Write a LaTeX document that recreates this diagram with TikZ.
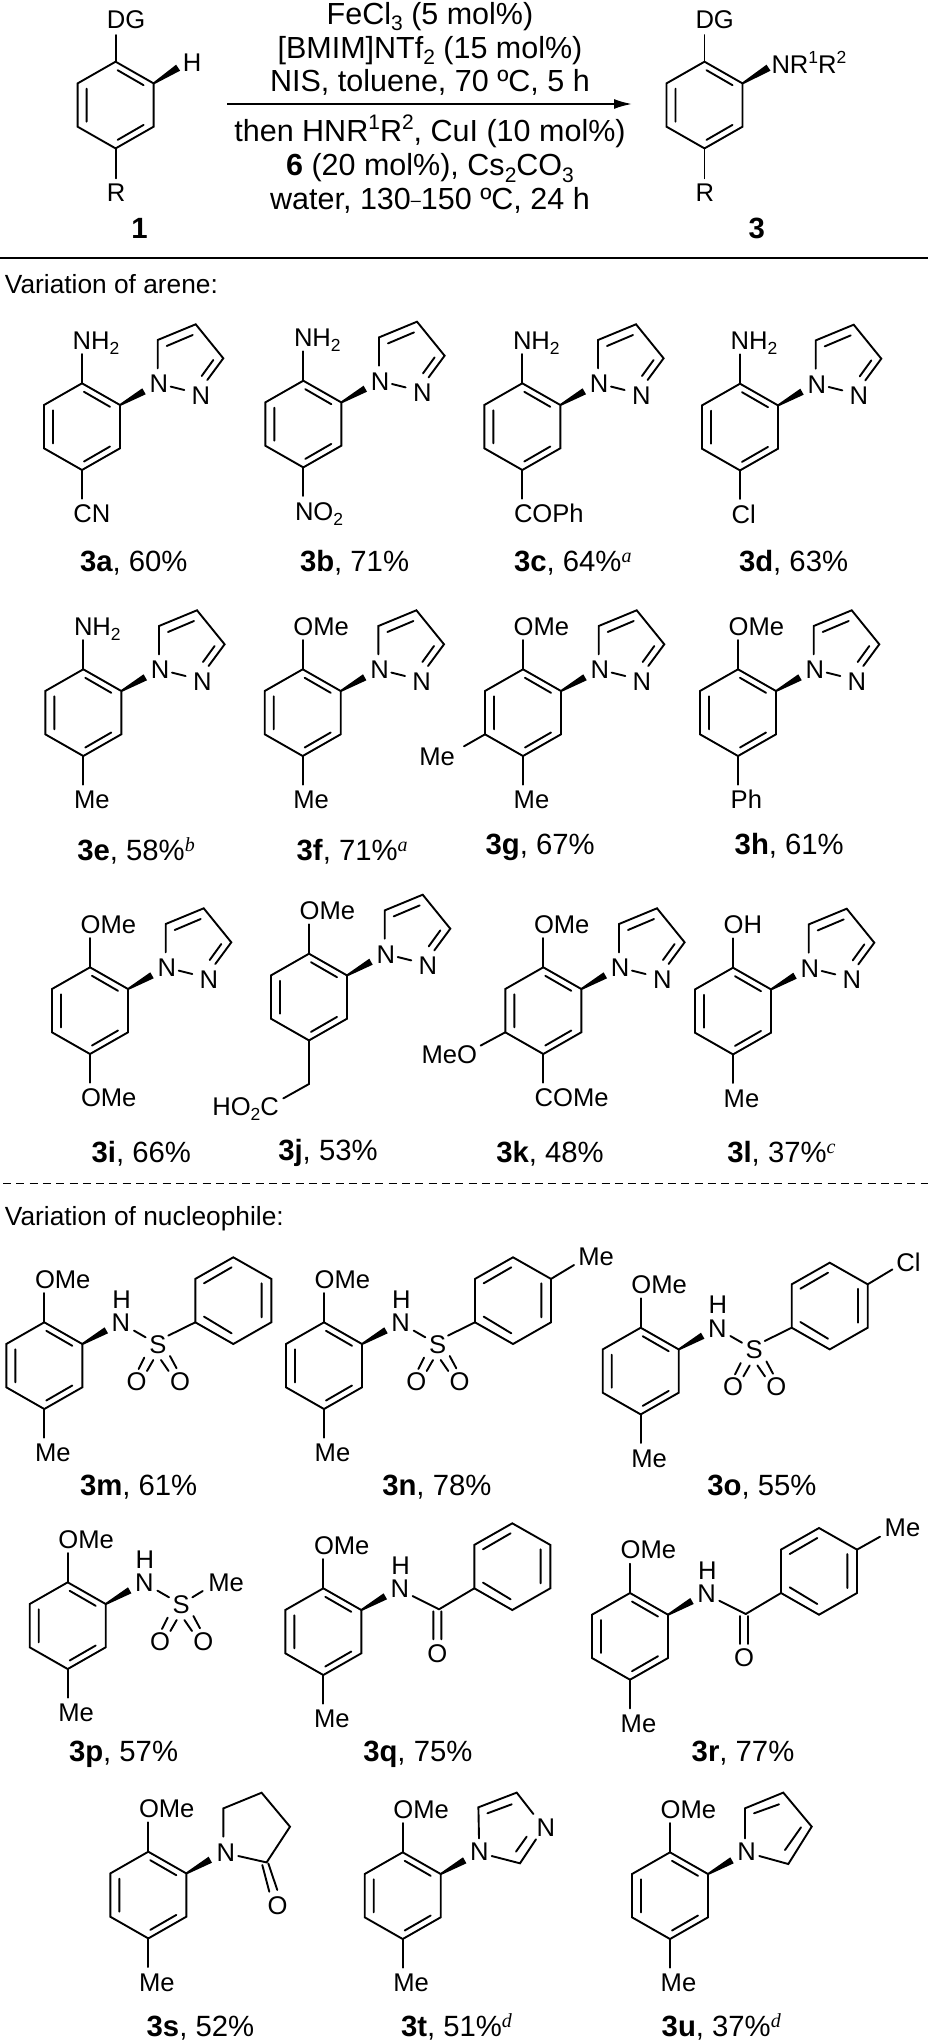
\documentclass[tikz,border=0pt]{standalone}
\usepackage{fontspec}
\setmainfont{Liberation Sans}
\newfontfamily\serifsup{Liberation Serif}
\usetikzlibrary{arrows.meta,calc}
\tikzset{
  bond/.style={line width=1.9pt,line cap=round,line join=miter,black},
  wdgfill/.style={fill=black,draw=none},
  atomlbl/.style={anchor=base west,inner sep=0pt,outer sep=0pt,font=\fontsize{25.6}{30}\selectfont},
  yieldlbl/.style={anchor=base west,inner sep=0pt,outer sep=0pt,font=\fontsize{29.3}{34}\selectfont},
  condlbl/.style={anchor=base,inner sep=0pt,outer sep=0pt,font=\fontsize{30.5}{35}\selectfont},
  numlbl/.style={anchor=base,inner sep=0pt,outer sep=0pt,font=\fontsize{29.3}{34}\selectfont},
  headlbl/.style={anchor=base west,inner sep=0pt,outer sep=0pt,font=\fontsize{26.3}{30}\selectfont},
}
\newcommand\sbs[1]{\raisebox{-5.5pt}{\fontsize{17.5}{20}\selectfont #1}}
\newcommand\sps[1]{\raisebox{10.5pt}{\fontsize{17.5}{20}\selectfont #1}}
\newcommand\csbs[1]{\raisebox{-6.5pt}{\fontsize{21}{23}\selectfont #1}}
\newcommand\csps[1]{\raisebox{12pt}{\fontsize{21}{23}\selectfont #1}}
\newcommand\supit[1]{\raisebox{9pt}{\fontsize{20}{22}\selectfont\serifsup\itshape #1}}
\newcommand\mol[4]{\begin{scope}[shift={(#2,#3)},name prefix=#1-]#4\end{scope}}
\newcommand\atm[4]{\node[atomlbl] (#1) at (#2,#3) {#4};}
\newcommand\yld[4]{\node[yieldlbl] (y#1) at (#2,#3) {\textbf{#1}#4};}
\newcommand\arenering{%
  \coordinate (t) at (0,0); \coordinate (ur) at (38,21.7); \coordinate (lr) at (38,65);
  \coordinate (b) at (0,86.7); \coordinate (ll) at (-38,65); \coordinate (ul) at (-38,21.7);
  \coordinate (i1) at (2,8.5); \coordinate (i2) at (28,23.5);
  \coordinate (i3) at (2,78.2); \coordinate (i4) at (28,63.2);
  \coordinate (i5) at (-29,27); \coordinate (i6) at (-29,60);
  \draw[bond] (t)--(ur)--(lr)--(b)--(ll)--(ul)--cycle;
  \draw[bond] (i1)--(i2) (i3)--(i4) (i5)--(i6);}
\newcommand\wdg{\coordinate (wa) at (63.7,11); \coordinate (wb) at (60.3,5);
  \fill[wdgfill] ($(ur)+(0.3,1)$) -- (wa) -- (wb) -- ($(ur)+(-0.5,-0.8)$) -- cycle;}
\newcommand\topsub[2]{\coordinate (te) at (0,-29.3); \draw[bond] (t)--(te); \atm{top}{-9.3}{-34.3}{#2}}
\newcommand\botsub[2]{\coordinate (be) at (0,115.3); \draw[bond] (b)--(be); \atm{bot}{#1}{139.5}{#2}}
\newcommand\pyrazole{%
  \wdg
  \atm{n1}{67.6}{9.3}{N} \atm{n2}{109.7}{21}{N}
  \coordinate (a1) at (75.7,-15); \coordinate (c5) at (75.7,-43.3); \coordinate (c4) at (113.7,-59);
  \coordinate (c3) at (141.3,-25); \coordinate (a2) at (125.3,-3.3);
  \coordinate (a3) at (84.7,-37.3); \coordinate (a4) at (110.7,-48.3);
  \coordinate (a5) at (131.3,-23.3); \coordinate (a6) at (119.7,-7.3);
  \coordinate (a7) at (88.7,3.3); \coordinate (a8) at (102.3,6.7);
  \draw[bond] (a1)--(c5)--(c4)--(c3)--(a2) (a3)--(a4) (a5)--(a6) (a7)--(a8);}
\newcommand\phring{%
  \coordinate (pt) at (189,-65); \coordinate (pur) at (227,-43.4); \coordinate (plr) at (227,0);
  \coordinate (pb) at (189,21.7); \coordinate (pll) at (151,0); \coordinate (pul) at (151,-43.4);
  \coordinate (p1) at (159.7,-39); \coordinate (p2) at (187.3,-55);
  \coordinate (p3) at (217.3,-39); \coordinate (p4) at (217.3,-5);
  \coordinate (p5) at (159.7,-5.7); \coordinate (p6) at (187.3,11);
  \draw[bond] (pt)--(pur)--(plr)--(pb)--(pll)--(pul)--cycle;
  \draw[bond] (p1)--(p2) (p3)--(p4) (p5)--(p6);}
\newcommand\nhlbl{\wdg \atm{n}{67.3}{9.3}{N} \atm{h}{68}{-14}{H}}
\newcommand\sulfonyl{%
  \atm{s}{105}{31}{S} \atm{oa}{82.3}{68}{O} \atm{ob}{125.7}{68}{O}
  \coordinate (s1) at (89.7,8.3); \coordinate (s2) at (101.3,15);
  \coordinate (s3) at (100,35.3); \coordinate (s4) at (94.3,46.7);
  \coordinate (s5) at (109,37.7); \coordinate (s6) at (102.7,48.7);
  \coordinate (s7) at (116.7,37.7); \coordinate (s8) at (124.3,48.7);
  \coordinate (s9) at (125.7,33.7); \coordinate (s0) at (132.3,46);
  \draw[bond] (s1)--(s2) (s3)--(s4) (s5)--(s6) (s7)--(s8) (s9)--(s0);}
\newcommand\amide{%
  \atm{oa}{104}{73.7}{O}
  \coordinate (m1) at (89.3,7.7); \coordinate (mc) at (115.7,21);
  \coordinate (m3) at (110,23); \coordinate (m4) at (110,51);
  \coordinate (m5) at (118,23); \coordinate (m6) at (118,51);
  \draw[bond] (m1)--(mc) (m3)--(m4) (m5)--(m6);}
\begin{document}
\begin{tikzpicture}[x=1pt,y=-1pt]
\useasboundingbox (0,0) rectangle (928,2044);
\fill[white] (0,0) rectangle (928,2044);
% --- scheme ---
\mol{sm}{115.6}{61.7}{\arenering
  \coordinate (te) at (0,-26.7); \draw[bond] (t)--(te);
  \coordinate (wa) at (64.5,9); \coordinate (wb) at (60.5,3);
  \fill[wdgfill] ($(ur)+(0.3,1)$) -- (wa) -- (wb) -- ($(ur)+(-0.5,-0.8)$) -- cycle;
  \coordinate (be) at (0,116.6); \draw[bond] (b)--(be);
  \atm{dg}{-8.8}{-33.4}{DG} \atm{h}{67.2}{10}{H} \atm{r}{-8.8}{140}{R}}
\mol{pd}{704.5}{61.7}{\arenering
  \coordinate (te) at (0,-26.7); \draw[bond] (t)--(te);
  \coordinate (wa) at (66,9); \coordinate (wb) at (62,3);
  \fill[wdgfill] ($(ur)+(0.3,1)$) -- (wa) -- (wb) -- ($(ur)+(-0.5,-0.8)$) -- cycle;
  \coordinate (be) at (0,116.6); \draw[bond] (b)--(be);
  \atm{dg}{-9}{-33.4}{DG} \atm{nr}{67}{12.3}{NR\sps{1}R\sps{2}} \atm{r}{-9}{140}{R}}
\node[numlbl] (lab1) at (139.5,238.3) {\textbf{1}};
\node[numlbl] (lab3) at (756.7,238.3) {\textbf{3}};
\coordinate (arrowA) at (227.3,104); \coordinate (arrowB) at (632,104);
\draw[line width=1.9pt,-{Latex[length=18pt,width=10pt]}] (arrowA)--(arrowB);
\node[condlbl] (c1) at (430,24.3) {FeCl\csbs{3} (5 mol\%)};
\node[condlbl] (c2) at (430,58.3) {[BMIM]NTf\csbs{2} (15 mol\%)};
\node[condlbl] (c3) at (430,91.7) {NIS, toluene, 70 ºC, 5 h};
\node[condlbl] (c4) at (430,141.7) {then HNR\csps{1}R\csps{2}, CuI (10 mol\%)};
\node[condlbl] (c5) at (430,175.7) {\textbf{6} (20 mol\%), Cs\csbs{2}CO\csbs{3}};
\node[condlbl] (c6) at (430,209.3) {water, 130\raisebox{3pt}{\fontsize{18}{20}\selectfont –}150 ºC, 24 h};
\coordinate (ruleA) at (0,258); \coordinate (ruleB) at (928,258);
\draw[line width=1.9pt] (ruleA)--(ruleB);
\node[headlbl] (h1) at (5,293.3) {Variation of arene:};
\coordinate (dashA) at (3,1183.3); \coordinate (dashB) at (928,1183.3);
\draw[line width=1.4pt,dash pattern=on 8pt off 5.3pt] (dashA)--(dashB);
\node[headlbl] (h2) at (5,1225) {Variation of nucleophile:};
% --- row 1 ---
\mol{a}{82}{383.3}{\arenering\pyrazole\topsub{NH}{NH\sbs{2}}\botsub{-8.7}{CN}}
\mol{b}{303.3}{380.7}{\arenering\pyrazole\topsub{NH}{NH\sbs{2}}\botsub{-8.3}{NO\sbs{2}}}
\mol{c}{522.3}{383.3}{\arenering\pyrazole\topsub{NH}{NH\sbs{2}}\botsub{-8.3}{COPh}}
\mol{d}{740}{383.7}{\arenering\pyrazole\topsub{NH}{NH\sbs{2}}\botsub{-8.3}{Cl}}
\yld{3a}{80}{571.7}{, 60\%}
\yld{3b}{300}{571.7}{, 71\%}
\yld{3c}{514}{571.7}{, 64\%\supit{a}}
\yld{3d}{739}{571.7}{, 63\%}
% --- row 2 ---
\mol{e}{83.3}{669.3}{\arenering\pyrazole\topsub{NH}{NH\sbs{2}}\botsub{-9.3}{Me}}
\mol{f}{302.7}{669.3}{\arenering\pyrazole\topsub{O}{OMe}\botsub{-9.3}{Me}}
\mol{g}{523}{669.3}{\arenering\pyrazole\topsub{O}{OMe}\botsub{-9.3}{Me}
  \coordinate (le) at (-59,77); \draw[bond] (ll)--(le); \atm{me}{-103.7}{95.7}{Me}}
\mol{h}{738}{669.3}{\arenering\pyrazole\topsub{O}{OMe}\botsub{-7.3}{Ph}}
\yld{3e}{77.3}{860}{, 58\%\supit{b}}
\yld{3f}{296.7}{860}{, 71\%\supit{a}}
\yld{3g}{485.7}{854.3}{, 67\%}
\yld{3h}{734.7}{854.3}{, 61\%}
% --- row 3 ---
\mol{i}{90}{967.3}{\arenering\pyrazole\topsub{O}{OMe}\botsub{-9}{OMe}}
\mol{j}{309}{953.7}{\arenering\pyrazole\topsub{O}{OMe}
  \coordinate (ch) at (0,130.3); \coordinate (co) at (-25.7,144.7); \draw[bond] (b)--(ch)--(co);
  \atm{acid}{-96.7}{161.3}{HO\sbs{2}C}}
\mol{k}{543.3}{967.3}{\arenering\pyrazole\topsub{O}{OMe}\botsub{-8.7}{COMe}
  \coordinate (le) at (-62.7,78.3); \draw[bond] (ll)--(le); \atm{meo}{-121.7}{96}{MeO}}
\mol{l}{733}{967.7}{\arenering\pyrazole\topsub{O}{OH}\botsub{-9.3}{Me}}
\yld{3i}{91.7}{1162.7}{, 66\%}
\yld{3j}{278.3}{1160}{, 53\%}
\yld{3k}{496.3}{1162.7}{, 48\%}
\yld{3l}{727.3}{1162.7}{, 37\%\supit{c}}
% --- nucleophiles 1 ---
\mol{m}{44.3}{1322.3}{\arenering\nhlbl\topsub{O}{OMe}\botsub{-9.3}{Me}\sulfonyl\phring
  \coordinate (sp) at (124,13.3); \draw[bond] (sp)--(pll);}
\mol{n}{324}{1322.3}{\arenering\nhlbl\topsub{O}{OMe}\botsub{-9.3}{Me}\sulfonyl\phring
  \coordinate (sp) at (124,13.3); \draw[bond] (sp)--(pll);
  \coordinate (mb) at (250,-57.3); \draw[bond] (pur)--(mb); \atm{me}{254.3}{-56.6}{Me}}
\mol{o}{640.7}{1327.7}{\arenering\nhlbl\topsub{O}{OMe}\botsub{-9.3}{Me}\sulfonyl\phring
  \coordinate (sp) at (124,13.3); \draw[bond] (sp)--(pll);
  \coordinate (mb) at (251.7,-58.3); \draw[bond] (pur)--(mb); \atm{cl}{255.7}{-56}{Cl}}
\yld{3m}{80}{1495}{, 61\%}
\yld{3n}{382.3}{1495}{, 78\%}
\yld{3o}{707.3}{1495}{, 55\%}
% --- nucleophiles 2 ---
\mol{p}{67.7}{1582.3}{\arenering\nhlbl\topsub{O}{OMe}\botsub{-9.3}{Me}\sulfonyl
  \coordinate (sm) at (124.7,15); \coordinate (se) at (135,8.7); \draw[bond] (sm)--(se);
  \atm{me}{140.7}{9.3}{Me}}
\mol{q}{323.3}{1588.3}{\arenering\nhlbl\topsub{O}{OMe}\botsub{-9.3}{Me}\amide\phring
  \draw[bond] (mc)--(pll);}
\mol{r}{630}{1593}{\arenering\nhlbl\topsub{O}{OMe}\botsub{-9.3}{Me}\amide\phring
  \draw[bond] (mc)--(pll);
  \coordinate (mb) at (250,-56.3); \draw[bond] (pur)--(mb); \atm{me}{254.7}{-56.3}{Me}}
\yld{3p}{69}{1761.7}{, 57\%}
\yld{3q}{363.3}{1761.7}{, 75\%}
\yld{3r}{691.7}{1761.7}{, 77\%}
% --- nucleophiles 3 ---
\mol{s}{148.3}{1851.7}{\arenering\wdg\topsub{O}{OMe}\botsub{-9.3}{Me}
  \atm{n}{68.3}{9.3}{N} \atm{o}{119.3}{62.7}{O}
  \coordinate (l1) at (75,-15); \coordinate (l2) at (75,-43.3); \coordinate (l3) at (113.3,-59);
  \coordinate (l4) at (141.7,-25); \coordinate (l5) at (118.3,10.7); \coordinate (l6) at (90,4.3);
  \draw[bond] (l1)--(l2)--(l3)--(l4)--(l5)--(l6);
  \coordinate (l7) at (120,11.7); \coordinate (l8) at (129,38.3);
  \coordinate (l9) at (114,13.3); \coordinate (l0) at (121,40);
  \draw[bond] (l7)--(l8) (l9)--(l0);}
\mol{t}{402.7}{1852.3}{\arenering\wdg\topsub{O}{OMe}\botsub{-9.3}{Me}
  \atm{n1}{67.3}{8.3}{N} \atm{n3}{134}{-15.7}{N}
  \coordinate (e1) at (76.3,-14); \coordinate (e2) at (75.7,-45); \coordinate (e3) at (114,-59.7);
  \coordinate (e4) at (130.7,-38.3); \coordinate (e5) at (133.3,-13); \coordinate (e6) at (117.3,11);
  \coordinate (e7) at (89,3.7); \coordinate (e8) at (84.7,-39); \coordinate (e9) at (109,-48);
  \coordinate (e10) at (124,-15.7); \coordinate (e11) at (113.3,-0.7);
  \draw[bond] (e1)--(e2)--(e3)--(e4) (e5)--(e6)--(e7) (e8)--(e9) (e10)--(e11);}
\mol{u}{670}{1852.3}{\arenering\wdg\topsub{O}{OMe}\botsub{-9.3}{Me}
  \atm{n}{67.3}{8.3}{N}
  \coordinate (u1) at (75,-14); \coordinate (u2) at (75,-44); \coordinate (u3) at (113.3,-59.7);
  \coordinate (u4) at (141.7,-25.7); \coordinate (u5) at (118.3,11.7); \coordinate (u6) at (89.3,3.7);
  \coordinate (u7) at (84,-39); \coordinate (u8) at (109,-48); \coordinate (u9) at (131,-25); \coordinate (u10) at (115,-2.3);
  \draw[bond] (u1)--(u2)--(u3)--(u4)--(u5)--(u6) (u7)--(u8) (u9)--(u10);}
\yld{3s}{146.7}{2036}{, 52\%}
\yld{3t}{401}{2036}{, 51\%\supit{d}}
\yld{3u}{661.7}{2036}{, 37\%\supit{d}}
\end{tikzpicture}
\end{document}
